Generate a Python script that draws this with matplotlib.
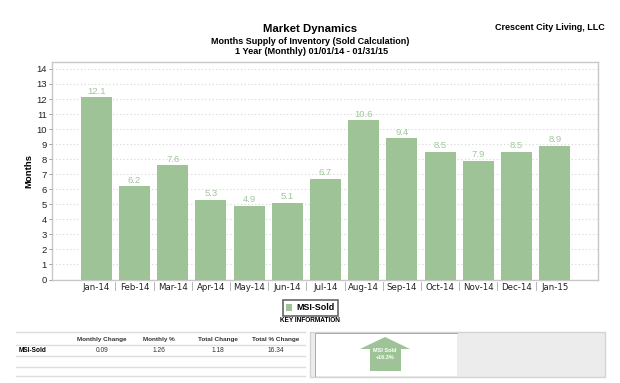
import numpy as np
import matplotlib
matplotlib.use('Agg')
import matplotlib.pyplot as plt
from matplotlib.patches import Rectangle, Polygon

months = ['Jan-14', 'Feb-14', 'Mar-14', 'Apr-14', 'May-14', 'Jun-14', 'Jul-14',
          'Aug-14', 'Sep-14', 'Oct-14', 'Nov-14', 'Dec-14', 'Jan-15']
msi_sold = [12.1, 6.2, 7.6, 5.3, 4.9, 5.1, 6.7, 10.6, 9.4, 8.5, 7.9, 8.5, 8.9]
y_ticks = list(range(0, 15))

table_headers = ['Monthly Change', 'Monthly %', 'Total Change', 'Total % Change']
table_row_name = 'MSI-Sold'
table_values = ['0.09', '1.26', '1.18', '16.34']

GREEN = '#9dc397'
LABEL_GREEN = '#9fc79a'
EDGE = '#c8c8c8'
W, H = 620, 383

plt.rcParams['font.family'] = ['Liberation Sans', 'DejaVu Sans']
fig = plt.figure(figsize=(W / 100, H / 100), dpi=100, facecolor='white')

# page layer in pixel coordinates, for the titles, legend and key information
page = fig.add_axes([0, 0, 1, 1])
page.set_xlim(0, W)
page.set_ylim(H, 0)
page.axis('off')

page.text(310.5, 29, 'Market Dynamics', ha='center', va='center', fontsize=8.2, fontweight='bold')
page.text(310.5, 42, 'Months Supply of Inventory (Sold Calculation)', ha='center', va='center',
          fontsize=6.5, fontweight='bold')
page.text(312, 52, '1 Year (Monthly) 01/01/14 - 01/31/15', ha='center', va='center',
          fontsize=6.6, fontweight='bold')
page.text(605, 27, 'Crescent City Living, LLC', ha='right', va='center', fontsize=6.5, fontweight='bold')

# chart
ax = fig.add_axes([52.5 / W, 1 - 279.5 / H, (598 - 52.5) / W, (279.5 - 61.7) / H])
x = np.arange(len(months))
bars = ax.bar(x, msi_sold, width=0.81, color=GREEN, zorder=3)
ax.bar_label(bars, labels=[f'{v:.1f}' for v in msi_sold], padding=1, fontsize=6.8,
             color=LABEL_GREEN, zorder=4)
ax.set_xlim(-1.143, 13.13)
ax.set_ylim(0, 14.48)
ax.set_yticks(y_ticks)
ax.set_xticks(x)
ax.set_xticklabels(months, family=['DejaVu Sans'], fontsize=6.2, color='#222222')
ax.tick_params(axis='x', length=0, pad=2.5)
ax.tick_params(axis='y', length=2, width=0.6, color='#888888', labelsize=6.8, pad=2, labelcolor='#222222')
ax.yaxis.grid(True, linestyle=(0, (1.2, 2)), linewidth=0.8, color='#dcdcdc', zorder=0)
ax.set_ylabel('Months', fontsize=6.8, fontweight='bold', labelpad=2)
for side in ax.spines.values():
    side.set_color(EDGE)
    side.set_linewidth(1)

# little separators between month labels
for i in x[:-1]:
    ax.plot([i + 0.5, i + 0.5], [-0.17, -0.7], color='#aaaaaa', linewidth=0.6,
            clip_on=False, zorder=1)

# legend box
page.add_patch(Rectangle((282.5, 299.5), 55, 16, facecolor='white', edgecolor='#666666', linewidth=1.2))
page.add_patch(Rectangle((286, 304), 6.3, 7, facecolor=GREEN, edgecolor='none'))
page.text(296, 307.3, 'MSI-Sold', ha='left', va='center', fontsize=6.4, fontweight='bold')
page.text(309.5, 320.5, 'KEY INFORMATION', ha='center', va='center', fontsize=4.7, fontweight='bold')

# key information table
for yy in [332, 345, 356, 367, 376]:
    page.plot([16, 305], [yy, yy], color='#dddddd', linewidth=1)
col_x = [102, 159, 218, 276]
for cx, head, val in zip(col_x, table_headers, table_values):
    page.text(cx, 339.5, head, ha='center', va='center', fontsize=4.6, fontweight='bold', color='#333333')
    page.text(cx, 351, val, ha='center', va='center', fontsize=4.8, color='#333333')
page.text(19, 351, table_row_name, ha='left', va='center', fontsize=4.7, fontweight='bold')

# gauge panel with the arrow
page.add_patch(Rectangle((310, 332), 295, 45, facecolor='#ececec', edgecolor='#d4d4d4', linewidth=1))
page.add_patch(Rectangle((315, 333), 142, 43, facecolor='white', edgecolor='none'))
page.plot([315, 315, 457], [376, 333, 333], color='#aaaaaa', linewidth=0.7)
page.add_patch(Polygon([(385, 337), (410, 349), (401, 349), (401, 371), (370, 371), (370, 349), (360, 349)],
                       closed=True, facecolor=GREEN, edgecolor='none'))
page.text(385, 351, 'MSI Sold', ha='center', va='center', fontsize=4, fontweight='bold', color='white')
page.text(385, 357.5, '+16.3%', ha='center', va='center', fontsize=4, fontweight='bold', color='white')

fig.savefig('out.png', dpi=100, facecolor='white')
